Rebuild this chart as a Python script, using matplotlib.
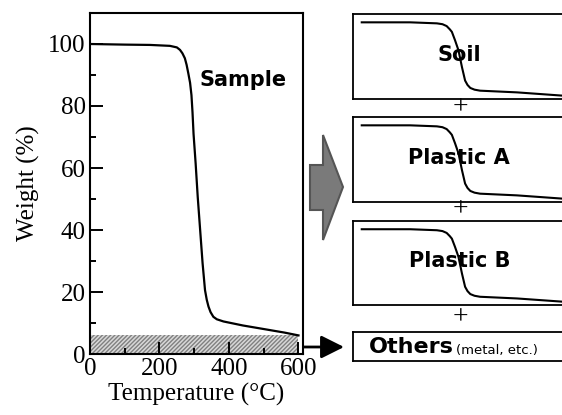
import numpy as np
import matplotlib
matplotlib.use("Agg")
import matplotlib.pyplot as plt
from matplotlib.patches import Polygon, FancyArrowPatch

# TGA curve of the mixed sample (temperature in degC, weight in %)
sample_temp = [0, 100, 173, 230, 250, 259, 266, 273, 278, 283, 288, 292, 295, 298, 304, 310,
               317, 324, 331, 336, 341, 347, 355, 365, 384, 440, 508, 560, 600]
sample_weight = [100, 99.8, 99.7, 99.4, 98.9, 98.1, 97.0, 95.4, 93.3, 90.5, 87.5, 83.5, 78.0, 71.0, 61.5, 50.7,
                 40.0, 29.3, 20.6, 17.5, 15.3, 13.5, 12.0, 11.2, 10.5, 9.2, 7.9, 6.9, 6.0]

# residue that does not decompose (metal etc.)
others_pct = 6.0

# component curves drawn inside the right-hand boxes
comp_temp = [26, 165, 242, 258, 270, 279, 285, 294, 304, 314, 323, 330, 338, 350, 366, 472, 605]
soil_w = [90.2, 90.2, 89.0, 88.0, 85.8, 82.0, 79.0, 69.2, 57.3, 37.5, 21.7, 16.5, 13.0, 11.0, 9.8, 7.8, 3.9]
plastic_a_w = [90.2, 90.2, 89.0, 88.0, 85.8, 82.0, 79.0, 69.2, 57.3, 37.5, 21.7, 16.5, 13.0, 11.0, 9.8, 7.8, 3.9]
plastic_b_w = [90.2, 90.2, 89.0, 88.0, 85.8, 82.0, 79.0, 69.2, 57.3, 37.5, 21.7, 16.5, 13.0, 11.0, 9.8, 7.8, 3.9]
components = [("Soil", soil_w), ("Plastic A", plastic_a_w), ("Plastic B", plastic_b_w)]

W, H = 562, 415
fig = plt.figure(figsize=(W / 100, H / 100), dpi=100)
serif = "Liberation Serif"
sans = "DejaVu Sans"


def px(x0, y0, x1, y1):
    """pixel box (top-left origin) -> figure-fraction rect"""
    return [x0 / W, 1 - y1 / H, (x1 - x0) / W, (y1 - y0) / H]


# ---- main TGA plot ----
ax = fig.add_axes(px(90, 13, 303, 354))
ax.fill_between([0, 600], 0, others_pct, facecolor="#d8d8d8", hatch="////////",
                edgecolor="#808080", linewidth=0)
ax.plot(sample_temp, sample_weight, color="black", lw=1.6, solid_joinstyle="round")
ax.set_xlim(0, 613)
ax.set_ylim(0, 110)
ax.set_xticks([0, 200, 400, 600])
ax.set_xticks([100, 300, 500], minor=True)
ax.set_yticks([0, 20, 40, 60, 80, 100])
ax.set_yticks([10, 30, 50, 70, 90], minor=True)
ax.tick_params(which="both", direction="in", width=1.4, top=False, right=False,
               labelsize=18, pad=3)
ax.tick_params(which="major", length=9)
ax.tick_params(which="minor", length=4)
for lab in ax.get_xticklabels() + ax.get_yticklabels():
    lab.set_family(serif)
for sp in ax.spines.values():
    sp.set_linewidth(1.5)
ax.set_xlabel("Temperature (°C)", fontsize=18, family=serif, labelpad=2)
ax.set_ylabel("Weight (%)", fontsize=18, family=serif, labelpad=6)
ax.text(440, 88.5, "Sample", fontsize=15, fontweight="bold", family=sans,
        ha="center", va="center")

# ---- component boxes ----
box_rows = [(14, 99), (117, 202), (221, 305)]
for (name, w), (top, bot) in zip(components, box_rows):
    bx = fig.add_axes(px(352.7, top, 566, bot))
    bx.plot(comp_temp, w, color="black", lw=1.5, solid_joinstyle="round")
    bx.set_xlim(0, 613)
    bx.set_ylim(0, 100)
    bx.set_xticks([])
    bx.set_yticks([])
    for sp in bx.spines.values():
        sp.set_linewidth(1.3)
    bx.text(0.5, 0.52, name, transform=bx.transAxes, fontsize=15,
            fontweight="bold", family=sans, ha="center", va="center")

ox = fig.add_axes(px(352.7, 332, 566, 361))
ox.set_xticks([])
ox.set_yticks([])
for sp in ox.spines.values():
    sp.set_linewidth(1.3)
fig.text(369 / W, 1 - 347 / H, "Others", fontsize=16, fontweight="bold",
         family=sans, ha="left", va="center")
fig.text(456 / W, 1 - 350 / H, "(metal, etc.)", fontsize=9.5,
         family=sans, ha="left", va="center")

for yp in (108, 210, 318):
    fig.text(460 / W, 1 - yp / H, "+", fontsize=20, family=serif,
             ha="center", va="center")

# ---- arrows ----
big = [(310, 165), (323, 165), (323, 135), (343, 187), (323, 240), (323, 210), (310, 210)]
fig.patches.append(Polygon([(x / W, 1 - y / H) for x, y in big], closed=True,
                           transform=fig.transFigure, facecolor="#7a7a7a",
                           edgecolor="#555555", lw=1.5))

fig.add_artist(FancyArrowPatch(
    (304 / W, 1 - 347 / H), (344 / W, 1 - 347 / H), transform=fig.transFigure,
    arrowstyle="-|>,head_length=14,head_width=7", mutation_scale=1,
    color="black", lw=2, shrinkA=0, shrinkB=0))

fig.savefig("out.png", dpi=100)
